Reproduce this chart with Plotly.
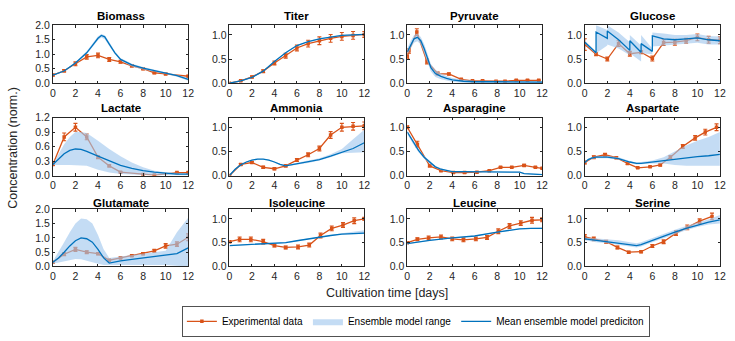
import plotly.graph_objects as go

# ---------------- data ----------------
days_int = [0, 1, 2, 3, 4, 5, 6, 7, 8, 9, 10, 11, 12]

# Biomass
biomass_t = [0, 1, 2, 3, 4, 5, 6, 7, 8, 9, 10, 12]
biomass_y = [0.28, 0.43, 0.67, 0.91, 0.96, 0.82, 0.74, 0.60, 0.50, 0.36, 0.32, 0.24]
biomass_e = [0.03, 0.04, 0.07, 0.08, 0.08, 0.07, 0.05, 0.04, 0.03, 0.03, 0.03, 0.03]
biomass_mt = [0, 1, 2, 3, 3.5, 4, 4.3, 4.6, 5, 5.5, 6, 7, 8, 9, 10, 11, 12]
biomass_m = [0.28, 0.42, 0.70, 1.05, 1.30, 1.55, 1.65, 1.60, 1.35, 1.05, 0.82, 0.63, 0.52, 0.43, 0.35, 0.26, 0.13]
biomass_lo = [0.27, 0.40, 0.67, 1.00, 1.24, 1.48, 1.58, 1.52, 1.28, 1.00, 0.78, 0.58, 0.47, 0.39, 0.32, 0.22, 0.08]
biomass_hi = [0.29, 0.44, 0.73, 1.10, 1.36, 1.62, 1.70, 1.66, 1.42, 1.10, 0.87, 0.67, 0.56, 0.46, 0.38, 0.29, 0.18]

# Titer
titer_t = days_int
titer_y = [0.00, 0.05, 0.13, 0.25, 0.42, 0.57, 0.73, 0.82, 0.88, 0.93, 0.97, 0.99, 1.01]
titer_e = [0.01, 0.01, 0.02, 0.03, 0.04, 0.05, 0.06, 0.07, 0.08, 0.08, 0.08, 0.08, 0.06]
titer_mt = days_int
titer_m = [0.00, 0.05, 0.12, 0.25, 0.45, 0.63, 0.78, 0.86, 0.92, 0.96, 0.99, 1.00, 1.01]
titer_lo = [0.00, 0.04, 0.11, 0.24, 0.44, 0.62, 0.77, 0.85, 0.91, 0.95, 0.98, 0.99, 1.00]
titer_hi = [0.01, 0.06, 0.13, 0.26, 0.46, 0.64, 0.79, 0.87, 0.93, 0.97, 1.00, 1.01, 1.02]

# Pyruvate
pyruvate_t = [0, 0.15, 0.85, 1.75, 2.7, 3.7, 4.8, 5.8, 6.7, 7.9, 8.7, 9.7, 10.7, 11.7]
pyruvate_y = [0.56, 0.67, 1.06, 0.45, 0.20, 0.19, 0.08, 0.05, 0.05, 0.04, 0.04, 0.06, 0.06, 0.06]
pyruvate_e = [0.05, 0.05, 0.07, 0.05, 0.03, 0.02, 0.01, 0.01, 0.01, 0.01, 0.01, 0.01, 0.01, 0.01]
pyruvate_mt = [0, 0.3, 0.6, 0.9, 1.2, 1.5, 1.8, 2.1, 2.5, 3, 3.5, 4, 5, 6, 8, 10, 12]
pyruvate_m = [0.65, 0.80, 0.92, 0.95, 0.88, 0.72, 0.52, 0.32, 0.20, 0.14, 0.10, 0.07, 0.04, 0.03, 0.03, 0.02, 0.02]
pyruvate_lo = [0.58, 0.72, 0.84, 0.87, 0.80, 0.63, 0.43, 0.24, 0.13, 0.08, 0.05, 0.03, 0.01, 0.01, 0.01, 0.00, 0.00]
pyruvate_hi = [0.72, 0.88, 1.00, 1.03, 0.96, 0.81, 0.61, 0.40, 0.28, 0.20, 0.15, 0.11, 0.07, 0.05, 0.05, 0.04, 0.04]

# Glucose
glucose_t = days_int
glucose_y = [0.80, 0.60, 0.50, 0.82, 0.61, 0.64, 0.51, 0.84, 0.85, 0.88, 0.95, 0.90, 0.89]
glucose_e = [0.12, 0.03, 0.04, 0.06, 0.05, 0.03, 0.05, 0.06, 0.06, 0.05, 0.07, 0.07, 0.07]
glucose_mt = [0, 1, 1, 2, 2, 3, 4, 4, 5, 5, 6, 6, 7, 8, 9, 10, 11, 12]
glucose_m = [0.85, 0.63, 1.06, 0.93, 1.08, 0.90, 0.68, 0.88, 0.64, 0.82, 0.66, 0.98, 0.92, 0.90, 0.92, 0.94, 0.90, 0.88]
glucose_lo = [0.82, 0.60, 0.62, 0.78, 0.80, 0.72, 0.58, 0.62, 0.45, 0.62, 0.60, 0.76, 0.78, 0.80, 0.82, 0.84, 0.80, 0.80]
glucose_hi = [0.88, 0.66, 1.20, 1.10, 1.20, 1.05, 0.85, 1.00, 0.78, 1.00, 0.72, 1.05, 1.03, 1.00, 1.00, 1.02, 0.98, 0.97]

# Lactate
lactate_t = [0, 1, 2, 3, 4, 5, 6, 8, 9, 11, 12]
lactate_y = [0.23, 0.80, 1.00, 0.80, 0.38, 0.20, 0.07, 0.02, 0.01, 0.06, 0.06]
lactate_e = [0.02, 0.08, 0.08, 0.06, 0.03, 0.02, 0.01, 0.01, 0.01, 0.01, 0.01]
lactate_mt = [0, 0.5, 1, 1.5, 2, 2.5, 3, 4, 5, 6, 7, 8, 9, 10, 11, 12]
lactate_m = [0.23, 0.35, 0.45, 0.52, 0.55, 0.54, 0.50, 0.40, 0.30, 0.21, 0.15, 0.10, 0.07, 0.05, 0.03, 0.03]
lactate_lo = [0.22, 0.22, 0.22, 0.22, 0.22, 0.21, 0.20, 0.12, 0.06, 0.03, 0.02, 0.01, 0.01, 0.00, 0.00, 0.00]
lactate_hi = [0.24, 0.45, 0.65, 0.80, 0.90, 0.90, 0.88, 0.72, 0.55, 0.40, 0.27, 0.17, 0.10, 0.07, 0.05, 0.04]

# Ammonia
ammonia_t = days_int
ammonia_y = [0.00, 0.23, 0.27, 0.17, 0.14, 0.20, 0.32, 0.43, 0.56, 0.84, 1.00, 1.02, 1.03]
ammonia_e = [0.01, 0.02, 0.02, 0.02, 0.02, 0.02, 0.03, 0.04, 0.05, 0.07, 0.08, 0.08, 0.08]
ammonia_mt = [0, 0.5, 1, 1.5, 2, 2.5, 3, 3.5, 4, 4.5, 5, 6, 7, 8, 9, 10, 11, 12]
ammonia_m = [0.00, 0.13, 0.22, 0.28, 0.32, 0.34, 0.34, 0.32, 0.28, 0.23, 0.20, 0.24, 0.28, 0.33, 0.40, 0.48, 0.56, 0.68]
ammonia_lo = [0.00, 0.12, 0.21, 0.27, 0.31, 0.33, 0.33, 0.31, 0.27, 0.22, 0.19, 0.22, 0.26, 0.31, 0.38, 0.46, 0.47, 0.48]
ammonia_hi = [0.01, 0.14, 0.23, 0.29, 0.33, 0.35, 0.35, 0.33, 0.29, 0.24, 0.22, 0.27, 0.31, 0.36, 0.44, 0.55, 0.75, 0.95]

# Asparagine
asparagine_t = [0, 0.9, 2, 3, 4.1, 5.1, 6.2, 7.3, 8.3, 9.3, 10.4, 11.4, 12]
asparagine_y = [1.00, 0.65, 0.20, 0.10, 0.06, 0.06, 0.07, 0.10, 0.17, 0.17, 0.21, 0.17, 0.15]
asparagine_e = [0.03, 0.06, 0.02, 0.01, 0.01, 0.01, 0.01, 0.01, 0.01, 0.01, 0.02, 0.01, 0.01]
asparagine_mt = [0, 0.5, 1, 1.5, 2, 2.5, 3, 3.5, 4, 5, 6, 7, 8, 9, 10, 10.4, 11, 12]
asparagine_m = [0.90, 0.70, 0.52, 0.38, 0.27, 0.18, 0.13, 0.10, 0.08, 0.08, 0.08, 0.08, 0.08, 0.08, 0.07, 0.04, 0.03, 0.02]
asparagine_lo = [0.86, 0.66, 0.48, 0.35, 0.24, 0.16, 0.11, 0.09, 0.07, 0.07, 0.07, 0.07, 0.07, 0.07, 0.06, 0.03, 0.02, 0.01]
asparagine_hi = [0.94, 0.74, 0.56, 0.41, 0.30, 0.20, 0.15, 0.11, 0.09, 0.09, 0.09, 0.09, 0.09, 0.09, 0.08, 0.05, 0.04, 0.03]

# Aspartate
aspartate_t = [0, 0.8, 1.8, 2.8, 3.8, 4.7, 5.8, 6.7, 7.6, 8.7, 9.8, 10.7, 11.7]
aspartate_y = [0.27, 0.38, 0.43, 0.37, 0.25, 0.16, 0.18, 0.22, 0.38, 0.60, 0.78, 0.90, 1.00]
aspartate_e = [0.03, 0.03, 0.03, 0.02, 0.02, 0.01, 0.01, 0.02, 0.03, 0.04, 0.05, 0.06, 0.07]
aspartate_mt = [0, 0.3, 0.6, 1, 2, 3, 4, 4.6, 5, 6, 7, 8, 9, 10, 11, 12]
aspartate_m = [0.27, 0.33, 0.36, 0.38, 0.38, 0.35, 0.28, 0.25, 0.25, 0.28, 0.31, 0.34, 0.37, 0.39, 0.41, 0.44]
aspartate_lo = [0.26, 0.31, 0.34, 0.36, 0.36, 0.33, 0.26, 0.23, 0.23, 0.25, 0.25, 0.22, 0.20, 0.20, 0.20, 0.20]
aspartate_hi = [0.28, 0.35, 0.38, 0.40, 0.41, 0.38, 0.30, 0.27, 0.28, 0.31, 0.38, 0.50, 0.62, 0.72, 0.80, 0.90]

# Glutamate
glutamate_t = days_int
glutamate_y = [0.15, 0.43, 0.60, 0.50, 0.45, 0.22, 0.30, 0.38, 0.45, 0.55, 0.72, 0.78, 1.02]
glutamate_e = [0.03, 0.05, 0.07, 0.05, 0.04, 0.03, 0.03, 0.03, 0.04, 0.05, 0.08, 0.08, 0.12]
glutamate_mt = [0, 0.5, 1, 1.5, 2, 2.5, 3, 3.5, 4, 4.5, 5, 6, 7, 8, 9, 10, 11, 12]
glutamate_m = [0.15, 0.30, 0.50, 0.72, 0.90, 1.00, 0.97, 0.85, 0.60, 0.30, 0.12, 0.20, 0.25, 0.30, 0.35, 0.40, 0.45, 0.65]
glutamate_lo = [0.10, 0.12, 0.18, 0.22, 0.26, 0.25, 0.20, 0.15, 0.10, 0.05, 0.03, 0.04, 0.05, 0.05, 0.05, 0.05, 0.03, 0.00]
glutamate_hi = [0.18, 0.50, 0.85, 1.20, 1.50, 1.68, 1.65, 1.50, 1.10, 0.60, 0.30, 0.35, 0.40, 0.45, 0.48, 0.55, 1.20, 1.70]

# Isoleucine
isoleucine_t = [0, 0.9, 1.9, 3, 4, 5, 6.1, 7.1, 8.1, 9.1, 10.1, 11.1, 12]
isoleucine_y = [0.52, 0.57, 0.57, 0.52, 0.44, 0.40, 0.41, 0.45, 0.65, 0.80, 0.87, 0.96, 1.00]
isoleucine_e = [0.02, 0.05, 0.05, 0.05, 0.03, 0.03, 0.04, 0.04, 0.05, 0.05, 0.05, 0.06, 0.03]
isoleucine_mt = [0, 2, 4, 5, 6, 7, 8, 9, 10, 11, 12]
isoleucine_m = [0.44, 0.46, 0.48, 0.50, 0.54, 0.58, 0.62, 0.65, 0.68, 0.69, 0.70]
isoleucine_lo = [0.43, 0.45, 0.47, 0.49, 0.53, 0.57, 0.61, 0.64, 0.67, 0.68, 0.68]
isoleucine_hi = [0.45, 0.47, 0.49, 0.51, 0.55, 0.59, 0.63, 0.66, 0.70, 0.73, 0.76]

# Leucine
leucine_t = [0, 0.9, 1.9, 3, 4, 5, 6.1, 7.1, 8.1, 9.1, 10.1, 11.1, 12]
leucine_y = [0.50, 0.57, 0.60, 0.62, 0.58, 0.56, 0.58, 0.61, 0.74, 0.85, 0.91, 0.97, 0.98]
leucine_e = [0.01, 0.03, 0.04, 0.04, 0.04, 0.04, 0.04, 0.04, 0.05, 0.05, 0.05, 0.06, 0.04]
leucine_mt = [0, 2, 4, 6, 8, 9, 10, 11, 12]
leucine_m = [0.48, 0.55, 0.60, 0.64, 0.72, 0.76, 0.79, 0.80, 0.80]
leucine_lo = [0.47, 0.54, 0.59, 0.63, 0.71, 0.75, 0.78, 0.79, 0.79]
leucine_hi = [0.49, 0.56, 0.61, 0.65, 0.73, 0.77, 0.80, 0.81, 0.82]

# Serine
serine_t = [0, 0.8, 1.9, 2.9, 3.9, 5, 6, 7, 8.1, 9.1, 10.2, 11.3]
serine_y = [0.62, 0.58, 0.52, 0.40, 0.30, 0.31, 0.43, 0.52, 0.70, 0.82, 0.95, 1.05]
serine_e = [0.05, 0.04, 0.03, 0.03, 0.02, 0.02, 0.03, 0.04, 0.05, 0.05, 0.05, 0.07]
serine_mt = [0, 1, 2, 3, 4, 4.6, 5, 6, 7, 8, 9, 10, 11, 12]
serine_m = [0.58, 0.55, 0.53, 0.50, 0.46, 0.44, 0.46, 0.55, 0.63, 0.72, 0.80, 0.87, 0.93, 0.98]
serine_lo = [0.55, 0.51, 0.49, 0.46, 0.42, 0.40, 0.42, 0.51, 0.59, 0.68, 0.76, 0.83, 0.88, 0.90]
serine_hi = [0.61, 0.59, 0.58, 0.55, 0.51, 0.49, 0.51, 0.60, 0.68, 0.77, 0.85, 0.92, 0.99, 1.08]

titles = ["Biomass", "Titer", "Pyruvate", "Glucose",
          "Lactate", "Ammonia", "Asparagine", "Aspartate",
          "Glutamate", "Isoleucine", "Leucine", "Serine"]
yticks_2 = [0, 0.5, 1.0, 1.5, 2.0]
yticks_1 = [0, 0.5, 1.0]
yticks_lac = [0, 0.3, 0.6, 0.9, 1.2]
xticks = [0, 2, 4, 6, 8, 10, 12]
legend_names = ["Experimental data", "Ensemble model range", "Mean ensemble model prediciton"]

panels = [
    (biomass_t, biomass_y, biomass_e, biomass_mt, biomass_m, biomass_lo, biomass_hi, [0, 2.0], yticks_2),
    (titer_t, titer_y, titer_e, titer_mt, titer_m, titer_lo, titer_hi, [0, 1.2], yticks_1),
    (pyruvate_t, pyruvate_y, pyruvate_e, pyruvate_mt, pyruvate_m, pyruvate_lo, pyruvate_hi, [0, 1.2], yticks_1),
    (glucose_t, glucose_y, glucose_e, glucose_mt, glucose_m, glucose_lo, glucose_hi, [0, 1.2], yticks_1),
    (lactate_t, lactate_y, lactate_e, lactate_mt, lactate_m, lactate_lo, lactate_hi, [0, 1.2], yticks_lac),
    (ammonia_t, ammonia_y, ammonia_e, ammonia_mt, ammonia_m, ammonia_lo, ammonia_hi, [0, 1.2], yticks_1),
    (asparagine_t, asparagine_y, asparagine_e, asparagine_mt, asparagine_m, asparagine_lo, asparagine_hi, [0, 1.2], yticks_1),
    (aspartate_t, aspartate_y, aspartate_e, aspartate_mt, aspartate_m, aspartate_lo, aspartate_hi, [0, 1.2], yticks_1),
    (glutamate_t, glutamate_y, glutamate_e, glutamate_mt, glutamate_m, glutamate_lo, glutamate_hi, [0, 2.0], yticks_2),
    (isoleucine_t, isoleucine_y, isoleucine_e, isoleucine_mt, isoleucine_m, isoleucine_lo, isoleucine_hi, [0, 1.2], yticks_1),
    (leucine_t, leucine_y, leucine_e, leucine_mt, leucine_m, leucine_lo, leucine_hi, [0, 1.2], yticks_1),
    (serine_t, serine_y, serine_e, serine_mt, serine_m, serine_lo, serine_hi, [0, 1.2], yticks_1),
]

# ---------------- styling / layout ----------------
W, H = 735, 341
ORANGE = "#D95319"
BLUE = "#0072BD"
BAND = "rgba(160,198,238,0.62)"
AXC = "#262626"
FONT = "Liberation Sans, Arial, sans-serif"

col_px = [(50.5, 187.5), (229.3, 365.8), (409.3, 545.8), (589.0, 725.8)]
row_px = [(20.0, 80.0), (115.7, 175.7), (210.7, 270.0)]
title_off = [9.5, 9.5, 7.0]

fig = go.Figure()
layout = dict(
    width=W, height=H, margin=dict(l=0, r=0, t=0, b=0),
    paper_bgcolor="white", plot_bgcolor="white",
    font=dict(family=FONT, color=AXC, size=10.5),
    showlegend=True,
)
annotations = []

for i, (et, ey, ee, mt, mm, lo, hi, yr, yt) in enumerate(panels):
    r, c = divmod(i, 4)
    n = i + 1
    xa = "x" if n == 1 else f"x{n}"
    ya = "y" if n == 1 else f"y{n}"
    x0, x1 = col_px[c]
    y0, y1 = row_px[r]
    layout["xaxis" if n == 1 else f"xaxis{n}"] = dict(
        domain=[x0 / W, x1 / W], anchor=ya, range=[0, 12], tickvals=xticks,
        ticks="inside", ticklen=2.5, tickcolor=AXC, showline=True, linecolor=AXC,
        linewidth=0.8, mirror="ticks", showgrid=False, zeroline=False,
        tickfont=dict(size=10.5, color=AXC, family=FONT),
    )
    layout["yaxis" if n == 1 else f"yaxis{n}"] = dict(
        domain=[1 - y1 / H, 1 - y0 / H], anchor=xa, range=yr, tickvals=yt,
        tickformat=".1f", ticks="inside", ticklen=2.5, tickcolor=AXC, showline=True,
        linecolor=AXC, linewidth=0.8, mirror="ticks", showgrid=False, zeroline=False,
        tickfont=dict(size=10.5, color=AXC, family=FONT),
    )
    first = (i == 0)
    # experimental data
    fig.add_trace(go.Scatter(
        x=et, y=ey, mode="lines+markers", xaxis=xa, yaxis=ya,
        line=dict(color=ORANGE, width=1.3),
        marker=dict(color=ORANGE, size=3.5, symbol="square"),
        error_y=dict(type="data", array=ee, visible=True, color=ORANGE, thickness=1.1, width=2),
        name=legend_names[0], showlegend=first, legendgroup="exp",
    ))
    # ensemble band (drawn over the data, semi-transparent)
    fig.add_trace(go.Scatter(
        x=list(mt) + list(mt)[::-1], y=list(hi) + list(lo)[::-1],
        mode="lines", fill="toself", fillcolor=BAND, line=dict(width=0),
        xaxis=xa, yaxis=ya, name=legend_names[1], showlegend=first,
        legendgroup="band", hoverinfo="skip",
    ))
    # mean prediction
    fig.add_trace(go.Scatter(
        x=mt, y=mm, mode="lines", xaxis=xa, yaxis=ya,
        line=dict(color=BLUE, width=1.3),
        name=legend_names[2], showlegend=first, legendgroup="mean",
    ))
    annotations.append(dict(
        text="<b>" + titles[i] + "</b>", x=(x0 + x1) / 2 / W, y=1 - (y0 - title_off[r]) / H,
        xref="paper", yref="paper", showarrow=False, xanchor="center", yanchor="middle",
        font=dict(size=11.5, color="black", family=FONT),
    ))

annotations.append(dict(
    text="Cultivation time [days]", x=389 / W, y=1 - 297 / H, xref="paper", yref="paper",
    showarrow=False, xanchor="center", yanchor="middle", font=dict(size=12.5, color=AXC, family=FONT),
))
annotations.append(dict(
    text="Concentration (norm.)", x=10 / W, y=1 - 147 / H, xref="paper", yref="paper",
    showarrow=False, xanchor="center", yanchor="middle", textangle=-90,
    font=dict(size=12.5, color=AXC, family=FONT),
))

layout["annotations"] = annotations
layout["legend"] = dict(
    orientation="h", x=418 / W, y=1 - 327 / H, xanchor="center", yanchor="middle",
    bordercolor=AXC, borderwidth=0.8, bgcolor="white",
    font=dict(size=10, color="black", family=FONT), itemwidth=30,
    tracegroupgap=0,
)
fig.update_layout(**layout)
fig.write_html("out.html")
